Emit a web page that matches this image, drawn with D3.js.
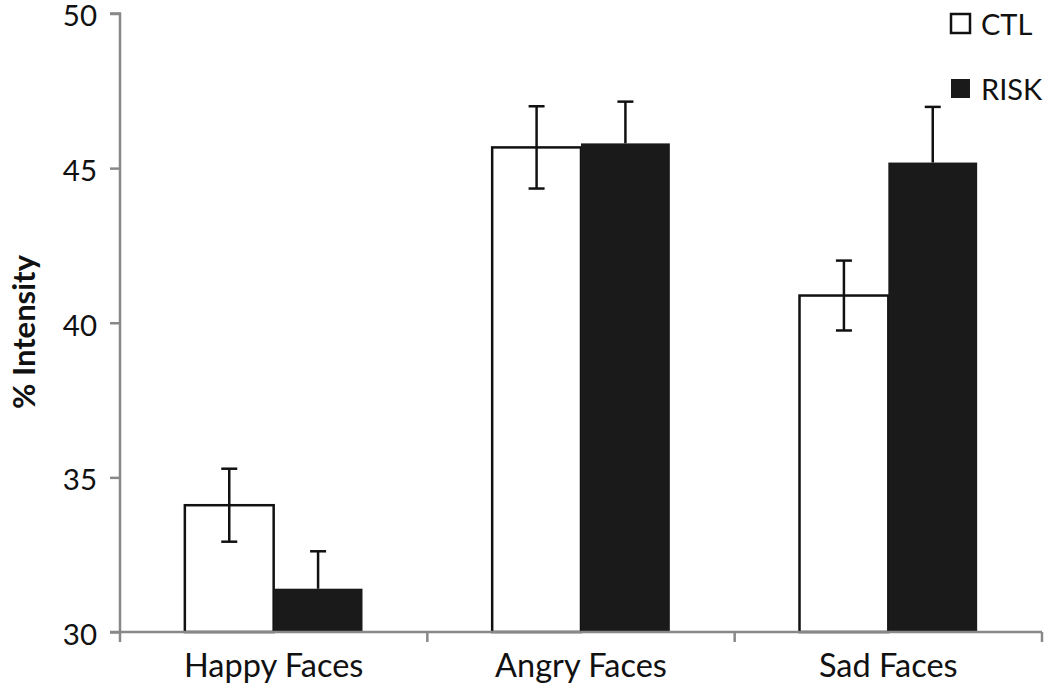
<!DOCTYPE html>
<html><head><meta charset="utf-8">
<script src="https://cdn.jsdelivr.net/npm/d3@7"></script>
<style>body{margin:0;background:#fff}svg{display:block}text{font-family:Lato,"Open Sans",sans-serif;fill:#111}</style>
</head><body><svg id="c" width="1050" height="692"></svg>
<script>
const categories = ["Happy Faces","Angry Faces","Sad Faces"];
const seriesNames = ["CTL","RISK"];
const ctlValues = [34.1, 45.67, 40.88];
const riskValues = [31.4, 45.8, 45.18];
const ctlErrors = [1.18, 1.33, 1.13];
const riskErrors = [1.21, 1.35, 1.8];
const yTicks = [30,35,40,45,50];

(function(){
const svg = d3.select("#c");
const pL=120, pR=1042, pT=13.5, pB=632;
const x = d3.scaleBand().domain(categories).range([pL,pR]);
const xs = d3.scaleBand().domain(seriesNames).range([0,x.bandwidth()]).paddingInner(0).paddingOuter(0.73);
const y = d3.scaleLinear().domain([30,50]).range([pB,pT]);
const fills = {CTL:"#ffffff", RISK:"#1a1a1a"};

const data = [];
categories.forEach((c,i)=>{
  data.push({c, s:"CTL", v:ctlValues[i], e:ctlErrors[i]});
  data.push({c, s:"RISK", v:riskValues[i], e:riskErrors[i]});
});

svg.append("g").selectAll("rect").data(data).join("rect")
  .attr("x", d=>x(d.c)+xs(d.s))
  .attr("y", d=>y(d.v))
  .attr("width", xs.bandwidth())
  .attr("height", d=>y(30)-y(d.v))
  .attr("fill", d=>fills[d.s])
  .attr("stroke", d=>d.s==="CTL"?"#111":"none")
  .attr("stroke-width", 2.5);

const eg = svg.append("g").attr("stroke","#111").attr("stroke-width",2.5);
data.forEach(d=>{
  const cx = x(d.c)+xs(d.s)+xs.bandwidth()/2;
  const lo = d.s==="CTL" ? d.v-d.e : d.v;
  eg.append("line").attr("x1",cx).attr("x2",cx).attr("y1",y(d.v+d.e)).attr("y2",y(lo));
  eg.append("line").attr("x1",cx-8).attr("x2",cx+8).attr("y1",y(d.v+d.e)).attr("y2",y(d.v+d.e));
  if(d.s==="CTL") eg.append("line").attr("x1",cx-8).attr("x2",cx+8).attr("y1",y(d.v-d.e)).attr("y2",y(d.v-d.e));
});

const ya = svg.append("g").attr("transform",`translate(${pL},0)`)
  .call(d3.axisLeft(y).tickValues(yTicks).tickSize(10).tickPadding(13));
ya.select(".domain").attr("stroke","#888").attr("stroke-width",2.5).attr("d",`M-10,${pT}H0V${pB}H-10`);
ya.selectAll(".tick line").attr("stroke","#888").attr("stroke-width",2.5);
ya.selectAll(".tick text").style("font-size","29.5px").attr("dy","0.42em").attr("fill","#111");

const xa = svg.append("g").attr("transform",`translate(0,${pB})`);
xa.append("path").attr("d",`M${pL},0H${pR}`).attr("stroke","#888").attr("stroke-width",2.5);
const tickPos = categories.map(c=>x(c)).concat([pR]);
xa.selectAll("line").data(tickPos).join("line")
  .attr("x1",d=>d).attr("x2",d=>d).attr("y1",0).attr("y2",10)
  .attr("stroke","#888").attr("stroke-width",2.5);
xa.selectAll("text").data(categories).join("text")
  .attr("x",d=>x(d)+x.bandwidth()/2).attr("y",45)
  .attr("text-anchor","middle").style("font-size","32.5px").text(d=>d);

svg.append("text").attr("transform","translate(35,332) rotate(-90)")
  .attr("text-anchor","middle").style("font-size","31px").style("font-weight","bold").text("% Intensity");

const lg = svg.append("g");
seriesNames.forEach((s,i)=>{
  const yy = 13 + i*65;
  lg.append("rect").attr("x",951).attr("y",yy+1).attr("width",19).attr("height",19)
    .attr("fill",fills[s]).attr("stroke","#111").attr("stroke-width",s==="CTL"?2.5:0);
  lg.append("text").attr("x",981).attr("y",yy+22).style("font-size","29px").text(s);
});
})();
</script></body></html>
